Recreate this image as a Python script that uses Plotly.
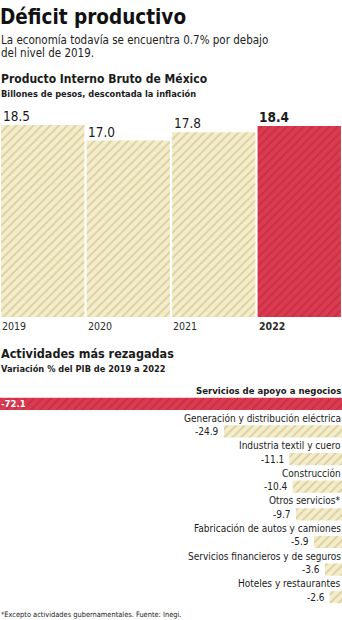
import plotly.graph_objects as go

# ---- data ----
years = ["2019", "2020", "2021", "2022"]
pib = [18.5, 17.0, 17.8, 18.4]

sectors = [
    "Servicios de apoyo a negocios",
    "Generación y distribución eléctrica",
    "Industria textil y cuero",
    "Construcción",
    "Otros servicios*",
    "Fabricación de autos y camiones",
    "Servicios financieros y de seguros",
    "Hoteles y restaurantes",
]
variation = [-72.1, -24.9, -11.1, -10.4, -9.7, -5.9, -3.6, -2.6]

W, H = 342, 620
FONT = "DejaVu Sans Condensed, DejaVu Sans, sans-serif"
DARK = "#1b1b1b"
BEIGE_BG, BEIGE_FG = "#f4edcb", "#dacf9e"
RED_BG, RED_FG = "#da3b50", "#c82e44"


def py(px):
    return 1 - px / H


def hatch(bg, fg):
    return dict(color=bg, line=dict(width=0),
                pattern=dict(shape="/", bgcolor=bg, fgcolor=fg, fgopacity=1,
                             size=6, solidity=0.3, fillmode="overlay"))


fig = go.Figure()

top_idx = len(years) - 1
for is_top in (False, True):
    idx = [i for i in range(len(years)) if (i == top_idx) == is_top]
    fig.add_trace(go.Bar(
        x=idx, y=[pib[i] for i in idx], width=0.975,
        marker=hatch(RED_BG, RED_FG) if is_top else hatch(BEIGE_BG, BEIGE_FG),
        xaxis="x", yaxis="y", hoverinfo="skip", showlegend=False,
    ))

for is_top in (False, True):
    idx = [i for i in range(len(sectors)) if (i == 0) == is_top]
    fig.add_trace(go.Bar(
        y=idx, x=[variation[i] for i in idx], orientation="h", width=0.44,
        marker=hatch(RED_BG, RED_FG) if is_top else hatch(BEIGE_BG, BEIGE_FG),
        xaxis="x2", yaxis="y2", hoverinfo="skip", showlegend=False,
    ))

ann = []


def txt(text, x, y, size, weight=400, color=DARK, xanchor="left", yanchor="middle",
        xref="paper", yref="paper", xshift=0, yshift=0):
    ann.append(dict(text=text, x=x, y=y, xref=xref, yref=yref, xanchor=xanchor,
                    yanchor=yanchor, showarrow=False, xshift=xshift, yshift=yshift,
                    font=dict(family=FONT, size=size, color=color, weight=weight)))


txt("Déficit productivo", 0, py(17), 20.5, 700, color="#111", xshift=-2)
txt("La economía todavía se encuentra 0.7% por debajo", 0, py(40), 11.5, 400, color="#222", xshift=-1)
txt("del nivel de 2019.", 0, py(53), 11.5, 400, color="#222", xshift=-1)
txt("Producto Interno Bruto de México", 0, py(79), 12, 700, xshift=-1)
txt("Billones de pesos, descontada la inflación", 0, py(93), 9.2, 700, xshift=-1)

for i, (yr, v) in enumerate(zip(years, pib)):
    bold = i == top_idx
    txt(f"{v:.1f}", i - 0.49, v, 13.5, 700 if bold else 400, xref="x", yref="y",
        yanchor="bottom", yshift=-1)
    txt(yr, i - 0.5, py(326), 10.5, 700 if bold else 400, color="#2a2a2a", xref="x")

txt("Actividades más rezagadas", 0, py(353), 12.5, 700, xshift=-1)
txt("Variación % del PIB de 2019 a 2022", 0, py(368), 9.2, 700, xshift=-1)

for i, (s, v) in enumerate(zip(sectors, variation)):
    txt(s, 0, i - 0.45, 9.5 if i == 0 else 10, 700 if i == 0 else 400, color=DARK,
        xref="x2", yref="y2", xanchor="right", yshift=1, xshift=1)
    if i == 0:
        txt(f"{v:.1f}", v, i, 9.5, 700, color="white", xref="x2", yref="y2", xshift=-1)
    else:
        txt(f"{v:.1f}", v, i, 10, 400, color="#222", xref="x2", yref="y2",
            xanchor="right", xshift=-3)

txt("*Excepto actividades gubernamentales. Fuente: Inegi.", 0, py(614), 7.4, 400, color="#222", xshift=-1)

noax = dict(showticklabels=False, showgrid=False, zeroline=False, showline=False, ticks="")
fig.update_layout(
    width=W, height=H, autosize=False,
    margin=dict(l=0, r=0, t=0, b=0),
    paper_bgcolor="white", plot_bgcolor="white",
    barmode="overlay",
    xaxis=dict(domain=[0, 1], range=[-0.5, 3.5], anchor="y", **noax),
    yaxis=dict(domain=[py(317), py(125)], range=[0, 18.5], anchor="x", **noax),
    xaxis2=dict(domain=[0, 1], range=[-72.1, 0], anchor="y2", **noax),
    yaxis2=dict(domain=[py(611), py(390)], range=[7.5, -0.5], anchor="x2", **noax),
    annotations=ann,
    showlegend=False,
)

fig.write_html("out.html")
